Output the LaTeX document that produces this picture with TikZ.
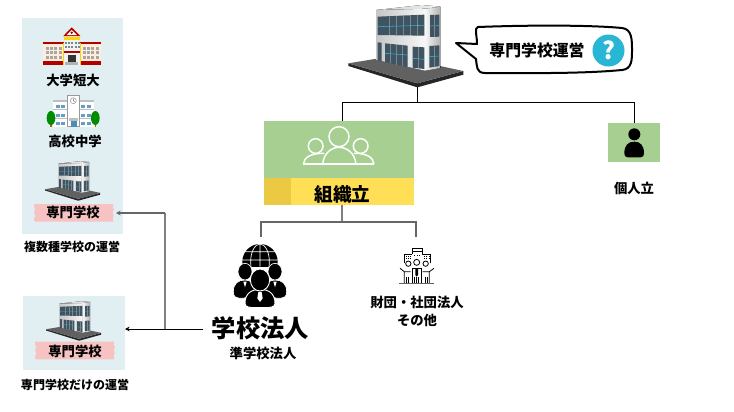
\documentclass[tikz,border=0pt]{standalone}
\usepackage{fontspec}
\setmainfont{Noto Sans CJK JP}
\usetikzlibrary{arrows.meta}
\definecolor{panelc}{HTML}{E1EFF3}
\definecolor{greenc}{HTML}{A6CF91}
\definecolor{yellowc}{HTML}{FFDF55}
\definecolor{yellowd}{HTML}{EBC942}
\definecolor{pinkc}{HTML}{F7C2C2}
\definecolor{qblue}{HTML}{29B6D5}
\definecolor{winc}{HTML}{3F5460}
\definecolor{cyanl}{HTML}{39B4DC}
\tikzset{
  every node/.style={inner sep=0pt,outer sep=0pt,align=center,text=black},
  lab/.style={font=\fontsize{10}{13}\selectfont\bfseries},
  labs/.style={font=\fontsize{9}{12}\selectfont\bfseries},
  panel/.style={fill=panelc,draw=none},
  thinline/.style={draw=black,line width=0.7pt},
  grayline/.style={draw=black!50,line width=1.5pt},
  arrowtip/.style={-{Stealth[length=3.5pt,width=3.5pt]}},
  pics/bldg/.style={code={
    % plate
    \fill[black!85] (55,190)--(55,198)--(262,262)--(400,224)--(400,213)--(262,250)--cycle;
    \fill[black!62] (55,190)--(140,176)--(285,205)--(330,198)--(400,213)--(262,250)--cycle;
    % walls
    \fill[left color=black!22,right color=black!3] (140,30)--(285,24)--(285,212)--(140,180)--cycle;
    \fill[left color=black!3,right color=black!30] (285,24)--(331,20)--(331,204)--(285,212)--cycle;
    \fill[left color=black!18,right color=black!6] (140,30)--(275,15)--(331,20)--(285,26)--cycle;
    % windows
    \fill[winc] (143,50)--(283,44)--(283,107)--(143,105)--cycle;
    \fill[winc] (300,45)--(328,44)--(328,110)--(300,111)--cycle;
    \fill[winc] (165,130)--(233,137)--(233,202)--(165,186)--cycle;
    \fill[winc] (248,140)--(283,142)--(283,207)--(248,203)--cycle;
    \fill[winc] (143,127)--(155,128)--(155,184)--(143,181)--cycle;
    \fill[winc] (298,138)--(328,136)--(328,198)--(298,203)--cycle;
    \draw[white!30!winc,line width=#1] (177,48)--(177,106) (198,47)--(198,106) (220,46)--(220,106) (241,45)--(241,106) (262,44)--(262,106) (314,45)--(314,110)
      (182,132)--(182,190) (198,134)--(198,194) (216,136)--(216,198) (265,141)--(265,205) (313,137)--(313,200);
    \draw[cyanl,line width=#1] (143,80)--(283,76) (300,78)--(328,77)
      (165,160)--(233,165) (248,175)--(283,178) (298,170)--(328,168);
  }},
  pics/tape/.style={code={
    \fill[pinkc] (0,0)--(238,0)--(236,8)--(240,16)--(236,24)--(239,34)--(236,44)--(238,53)
      --(2,53)--(0,44)--(4,36)--(0,26)--(4,16)--(0,8)--cycle;
  }},
  pics/tree/.style={code={
    \fill[black!25!orange] (-2,0) rectangle (2,48);
    \fill[green!55!black] (0,21) ellipse (13 and 21);
  }}
}
\begin{document}
\begin{tikzpicture}[x=0.75pt,y=-0.75pt]
\useasboundingbox (0,0) rectangle (734,411);
\fill[white] (0,0) rectangle (734,411);

% panels
\node[panel,minimum width=75.75pt,minimum height=162pt] (panelA) at (72.5,126) {};
\node[panel,minimum width=76.5pt,minimum height=55.5pt] (panelB) at (74,333) {};

% university icon
\begin{scope}[shift={(0,0)},scale=1/3]
  \fill[orange!15!white] (130,128) rectangle (302,195);
  \fill[red!70!black] (130,127) rectangle (302,133);
  \fill[red!70!black] (130,184) rectangle (190,195);
  \fill[red!70!black] (240,184) rectangle (302,195);
  \fill[yellow!70!orange] (188,128) rectangle (192,195);
  \fill[yellow!70!orange] (238,128) rectangle (242,195);
  \fill[black!5] (192,108) rectangle (240,195);
  \fill[yellow!75!orange] (192,111) rectangle (240,119);
  \fill[red!70!black] (192,152) rectangle (240,159);
  \fill[red!70!black] (190,108)--(215,82)--(241,108)--cycle;
  \fill[white] (200,105)--(215,90)--(231,105)--cycle;
  \fill[red!60!black] (215,98) circle (4);
  \foreach \y in {125,138} \foreach \x in {194,204,214,224,233} \fill[winc!70] (\x,\y) rectangle ++(6,7);
  \foreach \x in {137,150,163,176,248,261,274,287} \foreach \y in {141,154,169} \fill[black!35] (\x,\y) rectangle ++(9,8);
  \fill[black!80] (203,165) rectangle (227,187);
  \fill[black!30] (195,187) rectangle (235,196);
\end{scope}
\node[lab] (daigaku) at (73,80) {大学短大};

% high-school icon
\begin{scope}[scale=1/3]
  \fill[white] (160,303) rectangle (282,380);
  \fill[black!25] (160,301) rectangle (282,305);
  \fill[black!25] (160,328) rectangle (282,331);
  \fill[black!25] (160,354) rectangle (282,357);
  \fill[white] (202,287) rectangle (238,380);
  \draw[black!40,line width=0.3pt] (202,287) rectangle (238,380);
  \fill[white,draw=black!50,line width=0.3pt] (220,302) circle (9);
  \draw[black!60,line width=0.3pt] (220,302)--(220,296) (220,302)--(224,305);
  \foreach \y in {316,342,367} \foreach \x in {168,184,243,260} \fill[blue!40!cyan!60!black!60] (\x,\y) rectangle ++(12,8);
  \fill[blue!40!cyan!60!black!70] (212,364) rectangle (230,380);
  \fill[black!25] (208,355) rectangle (234,362);
\end{scope}
\pic[scale=1/3] at (51,111) {tree};
\pic[scale=1/3] at (95.3,111) {tree};
\node[lab] (koko) at (75,141) {高校中学};

% buildings
\pic[scale=0.16] at (36.2,158.8) {bldg=0.15pt};
\pic[scale=0.16] at (37.2,298.8) {bldg=0.15pt};
\pic[scale=1/3] at (330,0) {bldg=0.4pt};

% pink tapes
\pic[scale=1/3] at (34,204) {tape};
\pic[scale=1/3] at (35,341.7) {tape};
\node[lab] (senmonA) at (73,212.5) {専門学校};
\node[lab] (senmonB) at (75,351) {専門学校};
\node[labs] (fukusu) at (72,247) {複数種学校の運営};
\node[labs] (dake) at (75,385) {専門学校だけの運営};

% speech bubble
\draw[line width=1.5pt,fill=white,line join=round]
  (478,27) .. controls (530,25) and (590,25) .. (622,28)
  .. controls (632,29) and (632,40) .. (632,50)
  .. controls (632,60) and (632,69) .. (622,70)
  .. controls (580,74) and (520,73) .. (485,73)
  .. controls (476,73) and (477,66) .. (476,59)
  -- (456,43) -- (477,44)
  .. controls (477,35) and (474,28) .. (478,27) -- cycle;
\node[font=\fontsize{11.9}{14}\selectfont\bfseries] (bubbletext) at (537,50) {専門学校運営};
\node[circle,fill=qblue,minimum size=24pt,font=\fontsize{18}{20}\selectfont\bfseries,text=white] (question) at (608.5,50.5) {\textcolor{white}{?}};

% organisation box
\node[fill=greenc,minimum width=112.5pt,minimum height=63pt] (org) at (339,163) {};
\fill[yellowc] (org.west |- 0,178) rectangle (org.south east);
\fill[yellowd] (org.west |- 0,178) rectangle (291,205);
\node[font=\fontsize{14}{16}\selectfont\bfseries] (sosiki) at (342.5,194) {組織立};
\begin{scope}[shift={(250,110)},scale=1/3,white,line width=1.1pt]
  \draw (267,80) circle (30);
  \draw (197,108) circle (22);
  \draw (332,108) circle (22);
  \draw (218,162) .. controls (222,128) and (245,112) .. (267,112) .. controls (290,112) and (314,128) .. (318,162);
  \draw (160,162) .. controls (163,142) and (180,130) .. (222,130);
  \draw (372,162) .. controls (369,142) and (352,130) .. (312,130);
  \draw (160,162) -- (372,162);
\end{scope}

% individual box
\node[fill=greenc,minimum width=39pt,minimum height=29.25pt] (kojinbox) at (634,142.5) {};
\begin{scope}[shift={(590,110)},scale=1/3]
  \fill[black] (133,73) circle (18);
  \fill[black] (103,130) .. controls (103,105) and (115,95) .. (133,95) .. controls (150,95) and (162,105) .. (162,130) .. controls (162,145) and (150,142) .. (133,142) .. controls (115,142) and (103,145) .. (103,130) -- cycle;
\end{scope}
\node[lab] (kojin) at (634,188) {個人立};

% school-corporation icon
\begin{scope}[shift={(200,230)},scale=1/3]
  \begin{scope}
    \clip (120,40) rectangle (240,110);
    \fill[black] (180,95) circle (53);
    \draw[white,line width=0.5pt] (180,42)--(180,110) (180,95) ellipse (28 and 53) (127,90)--(233,90) (135,65)--(225,65);
  \end{scope}
  \fill[black,draw=white,line width=0.5pt] (100,185) .. controls (100,160) and (115,150) .. (135,150) .. controls (150,150) and (170,160) .. (170,190) -- (130,205) .. controls (105,205) and (100,200) .. (100,185) -- cycle;
  \fill[black,draw=white,line width=0.5pt] (260,185) .. controls (260,160) and (245,150) .. (225,150) .. controls (210,150) and (190,160) .. (190,190) -- (230,205) .. controls (255,205) and (260,200) .. (260,185) -- cycle;
  \fill[black,draw=white,line width=0.5pt] (135,125) ellipse (21 and 25);
  \fill[black,draw=white,line width=0.5pt] (225,125) ellipse (21 and 25);
  \fill[white] (130,155)--(140,155)--(135,172)--cycle;
  \fill[white] (220,155)--(230,155)--(225,172)--cycle;
  \fill[black,draw=white,line width=0.7pt] (135,220) .. controls (135,190) and (155,178) .. (180,178) .. controls (205,178) and (225,190) .. (225,220) .. controls (225,233) and (210,233) .. (180,233) .. controls (150,233) and (135,233) .. (135,220) -- cycle;
  \fill[black,draw=white,line width=0.7pt] (180,150) ellipse (29 and 33);
  \fill[white] (175,186)--(185,186)--(188,205)--(180,216)--(172,205)--cycle;
\end{scope}
\node[font=\fontsize{18.2}{20}\selectfont\bfseries] (hojin) at (260.5,328) {学校法人};
\node[lab] (jun) at (263,353) {準学校法人};

% foundation icon
\begin{scope}[shift={(200,230)},scale=1/3,line width=0.35pt,draw=black]
  \draw (637,72)--(637,55)--(667,55)--(667,72);
  \draw (637,65)--(667,65);
  \draw (612,100)--(612,72)--(637,72) (692,100)--(692,72)--(667,72);
  \foreach \x in {617,624,631,672,679,686} \foreach \y in {78,85} \fill (\x,\y) rectangle ++(3,3);
  \foreach \x in {642,650,658} \fill (\x,75) rectangle ++(3,3);
  \draw[line width=0.6pt] (625,101) circle (8) (650,97) circle (9) (677,101) circle (8);
  \draw[line width=0.6pt] (636,160)--(636,115)--(664,115)--(664,160);
  \fill (646,115)--(654,115)--(654,135)--(650,140)--(646,135)--cycle;
  \draw[line width=0.6pt] (600,115)--(613,125)--(613,160) (702,115)--(688,125)--(688,160) (613,125)--(632,125) (688,125)--(668,125);
  \foreach \x in {618,624,641,648,655,676,682} \fill (\x,142) rectangle ++(3,18);
  \fill[black!60] (598,159) rectangle (703,162);
\end{scope}
\node[lab] (zaidan) at (417,302) {財団・社団法人};
\node[lab] (sonota) at (417,320) {その他};

% connectors
\coordinate (hqfoot) at (417,87);
\coordinate (jtop) at (417,102);
\coordinate (jleft) at (342,102);
\coordinate (jright) at (634,102);
\coordinate (jorg) at (342,205);
\coordinate (jmid) at (342,222);
\coordinate (jl2) at (261,222);
\coordinate (jr2) at (416,222);
\coordinate (jhojin) at (261,237);
\coordinate (jzaidan) at (416,237);
\coordinate (hstart) at (203,329);
\coordinate (btip) at (125,329);
\coordinate (vjoin) at (165,329);
\coordinate (vtop) at (165,213);
\coordinate (atip) at (116,213);
\draw[thinline] (hqfoot) -- (jtop);
\draw[thinline] (jleft |- org.north) -- (jleft) -- (jright) -- (kojinbox.north);
\draw[grayline,line width=1.2pt] (jorg) -- (jmid);
\draw[black!60,line width=0.9pt] (jhojin) -- (jl2) -- (jr2) -- (jzaidan);
\draw[thinline,arrowtip] (hstart) -- (btip);
\draw[grayline] (vjoin) -- (vtop);
\draw[black!60,line width=0.8pt,arrowtip] (vtop) -- (atip);
\end{tikzpicture}
\end{document}
